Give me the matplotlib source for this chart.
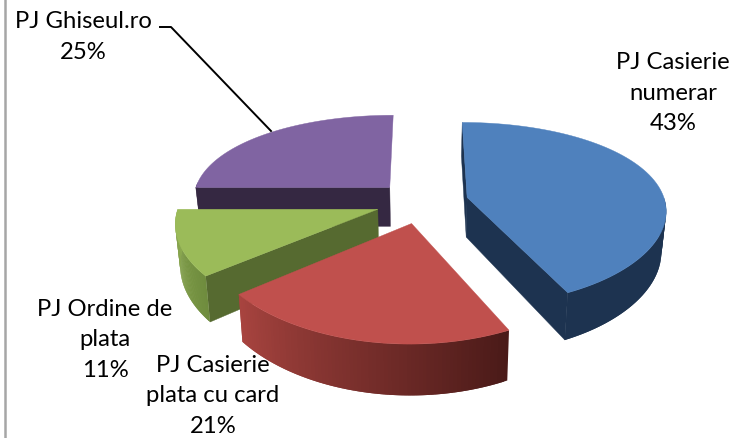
import numpy as np
import matplotlib.pyplot as plt
from matplotlib.colors import to_rgb

# Exploded 3D pie, drawn by hand since matplotlib has no perspective pie

names = ["PJ Casierie\nnumerar", "PJ Casierie\nplata cu card", "PJ Ordine de\nplata", "PJ Ghiseul.ro"]
values = [43, 21, 11, 25]
top_colors = ["#4f81bd", "#c0504d", "#9bbb59", "#8064a2"]
wall_colors = ["#1d3350", "#4e1c1a", "#566a30", "#352842"]
# outer rim colours: (at lower angle, at higher angle)
rim_colors = [("#1d3350", "#1d3350"), ("#4a1a18", "#a8443f"), ("#6f8c3e", "#8dab50"), ("#352842", "#352842")]
# which flat walls can be seen (0 = first edge, -1 = last edge)
visible_walls = [(0, -1), (), (0,), (0,)]
label_pos = [(673, 93), (213, 396), (105, 340), (83, 37)]

# Projection settings (pixels)
cx, cy = 422, 202
rx, ry = 198, 90
persp = 0.18
explode = 0.235
depth = 40

plt.rcParams["font.family"] = ["Lato", "DejaVu Sans"]


def project(u, v):
    s = 1 / (1 + persp * v)
    return cx + rx * u * s**0.7, cy - ry * v * s, s


def drop(x, y, s):
    # same point on the underside of the pie
    return cx + (x - cx) * 0.98, y + depth * s


figure = plt.figure(figsize=(7.34, 4.38), dpi=100)
ax = figure.add_axes([0, 0, 1, 1])
ax.set_xlim(0, 734)
ax.set_ylim(438, 0)
ax.axis("off")

fractions = np.array(values) / sum(values)
edges = np.concatenate([[0], np.cumsum(fractions)]) * 2 * np.pi


def draw_slice(i):
    t0, t1 = edges[i], edges[i + 1]
    mid = (t0 + t1) / 2
    ou, ov = explode * np.sin(mid), explode * np.cos(mid)
    ts = np.linspace(t0, t1, 80)
    x, y, s = project(ou + np.sin(ts), ov + np.cos(ts))
    ax_, ay, a_s = project(ou, ov)
    bx, by = drop(x, y, s)
    abx, aby = drop(ax_, ay, a_s)

    # flat walls
    for j in visible_walls[i]:
        ax.fill([ax_, x[j], bx[j], abx], [ay, y[j], by[j], aby], color=wall_colors[i], lw=0.3)

    # outer rim, only the part facing the viewer; each quad runs under the next so no seams show
    c0, c1 = to_rgb(rim_colors[i][0]), to_rgb(rim_colors[i][1])
    for k in range(len(ts) - 1):
        if np.cos(ts[k]) > 0.03:
            continue
        f = k / (len(ts) - 2)
        col = tuple((1 - f) * a + f * b for a, b in zip(c0, c1))
        e = min(k + 2, len(ts) - 1)
        ax.fill(np.r_[x[k:e + 1], bx[k:e + 1][::-1]], np.r_[y[k:e + 1], by[k:e + 1][::-1]], color=col, lw=0)

    # top
    ax.fill(np.r_[ax_, x], np.r_[ay, y], color=top_colors[i], lw=0.3)


# back to front
for i in [3, 0, 2, 1]:
    draw_slice(i)

for name, value, (lx, ly) in zip(names, values, label_pos):
    lines = name.split("\n") + [f"{value}%"]
    text = "\n".join(lines)
    ax.text(lx, ly, text, ha="center", va="center", fontsize=17.2, color="black", linespacing=1.55)

# leader line and left border
ax.plot([160, 171, 271], [27, 27, 131], color="black", lw=1.4, solid_joinstyle="round")
ax.plot([5, 5], [0, 438], color="#a6a6a6", lw=1.8)

figure.savefig("out.png", dpi=100)
